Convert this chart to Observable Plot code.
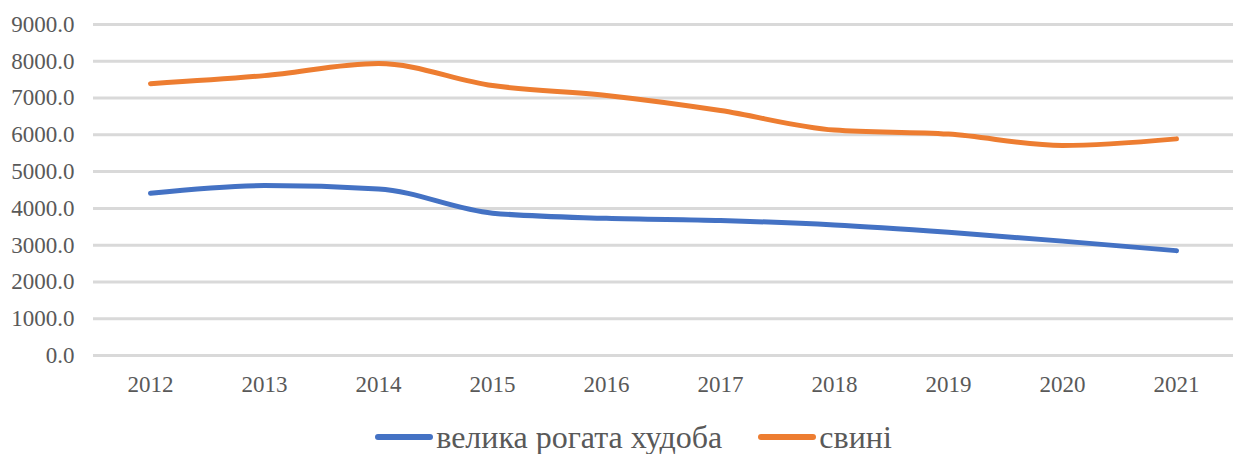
<!DOCTYPE html>
<html>
<head>
<meta charset="utf-8">
<script src="https://cdn.jsdelivr.net/npm/d3@7"></script>
<script src="https://cdn.jsdelivr.net/npm/@observablehq/plot@0.6"></script>
<style>
  html, body { margin: 0; padding: 0; background: #fff; overflow: hidden; }
  #chart { width: 1237px; }
  .legend { display: flex; justify-content: center; align-items: center; gap: 36px;
    font-family: "Liberation Serif", "DejaVu Serif", serif; font-size: 32px; color: #595959;
    height: 44px; margin-top: 10px; line-height: 1; margin-left: 30px; }
  .item { display: flex; align-items: center; }
  .sw { display: inline-block; width: 58px; height: 6px; border-radius: 3px; margin-right: 3px; }
</style>
</head>
<body>
<div id="chart"></div>
<script>
const years = ["2012","2013","2014","2015","2016","2017","2018","2019","2020","2021"];
const cattle = [4410, 4620, 4530, 3870, 3730, 3670, 3550, 3350, 3110, 2850];
const pigs = [7390, 7610, 7940, 7340, 7070, 6660, 6130, 6020, 5710, 5890];
const seriesNames = ["велика рогата худоба", "свині"];
const seriesColors = ["#4472c4", "#ed7d31"];
const yTicks = [0, 1000, 2000, 3000, 4000, 5000, 6000, 7000, 8000, 9000];

const data = [];
years.forEach((y, i) => {
  data.push({year: y, value: cattle[i], series: seriesNames[0]});
  data.push({year: y, value: pigs[i], series: seriesNames[1]});
});

const serif = "'Liberation Serif', 'DejaVu Serif', serif";
const plot = Plot.plot({
  width: 1237,
  height: 405,
  marginTop: 24,
  marginBottom: 50,
  marginLeft: 93,
  marginRight: 4,
  style: {fontFamily: serif, fontSize: "23px", color: "#595959", background: "#fff"},
  x: {type: "point", domain: years, padding: 0.5, label: null},
  y: {domain: [0, 9000], label: null},
  color: {domain: seriesNames, range: seriesColors},
  marks: [
    Plot.ruleY(yTicks, {stroke: "#d9d9d9", strokeWidth: 3}),
    Plot.axisY({ticks: yTicks, tickFormat: d => d.toFixed(1), tickSize: 0, tickPadding: 19, fill: "#595959", fontSize: 23, fontFamily: serif, label: null}),
    Plot.axisX({tickSize: 0, tickPadding: 20, fill: "#595959", fontSize: 23, fontFamily: serif, label: null}),
    Plot.line(data, {x: "year", y: "value", stroke: "series", z: "series", strokeWidth: 5, curve: "monotone-x"})
  ]
});
document.getElementById("chart").appendChild(plot);

const legend = document.createElement("div");
legend.className = "legend";
seriesNames.forEach((n, i) => {
  const it = document.createElement("span");
  it.className = "item";
  const sw = document.createElement("span");
  sw.className = "sw";
  sw.style.background = seriesColors[i];
  const t = document.createElement("span");
  t.textContent = n;
  it.appendChild(sw); it.appendChild(t);
  legend.appendChild(it);
});
document.getElementById("chart").appendChild(legend);
</script>
</body>
</html>
